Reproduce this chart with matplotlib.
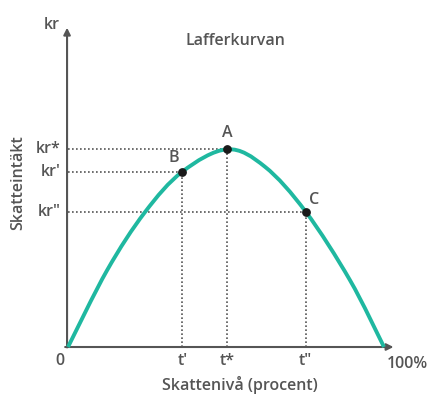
import matplotlib
matplotlib.use("Agg")
import matplotlib.pyplot as plt
from matplotlib.path import Path
from matplotlib.patches import PathPatch

# Curve: tax rate (0..100 %) and tax revenue (peak = 100)
tax_rate = [0, 12.4, 24.3, 36.2, 50.4, 62.3, 75.2, 89.2, 100]
revenue = [0, 38.9, 68.1, 88.7, 100, 91.2, 68.5, 33.9, 0]

point_names = ["A", "B", "C"]
point_x = [50.4, 36.2, 75.2]
point_y = [100, 88.7, 68.5]
x_tick_labels = ["t*", "t\u2032", "t\u2033"]
y_tick_labels = ["kr*", "kr\u2032", "kr\u2033"]

title = "Lafferkurvan"
xlabel = "Skattenivå (procent)"
ylabel = "Skatteintäkt"

TEAL = "#1fb8a0"
GRAY = "#555555"
FONT = ["Open Sans", "DejaVu Sans"]
FS = 11.5
FW = "semibold"

fig = plt.figure(figsize=(4.29, 3.96), dpi=100)
ax = fig.add_axes([0, 0, 1, 1])
ax.set_xlim(-21.52, 114.24)
ax.set_ylim(-24.78, 175.52)
ax.axis("off")

# axes with arrows
ax.annotate("", xy=(-0.3, 161.5), xytext=(-0.3, -0.2),
            arrowprops=dict(arrowstyle="-|>", color=GRAY, lw=1.5,
                            mutation_scale=10, shrinkA=0, shrinkB=0))
ax.annotate("", xy=(103.0, 0), xytext=(-0.9, 0),
            arrowprops=dict(arrowstyle="-|>", color=GRAY, lw=1.5,
                            mutation_scale=10, shrinkA=0, shrinkB=0))

# dotted guide lines
for px, py in zip(point_x, point_y):
    ax.plot([0, px], [py, py], linestyle=(0, (1, 1.4)), color=GRAY, lw=1.2, zorder=2)
    ax.plot([px, px], [0, py], linestyle=(0, (1, 1.4)), color=GRAY, lw=1.2, zorder=2)

# smooth curve through the read points (Catmull-Rom rendered as cubic Bezier path)
pts = list(zip(tax_rate, revenue))
verts = [pts[0]]
codes = [Path.MOVETO]
n = len(pts)
for i in range(n - 1):
    p0 = pts[i - 1] if i > 0 else pts[i]
    p1 = pts[i]
    p2 = pts[i + 1]
    p3 = pts[i + 2] if i + 2 < n else pts[i + 1]
    c1 = (p1[0] + (p2[0] - p0[0]) / 6.0, p1[1] + (p2[1] - p0[1]) / 6.0)
    c2 = (p2[0] - (p3[0] - p1[0]) / 6.0, p2[1] - (p3[1] - p1[1]) / 6.0)
    verts += [c1, c2, p2]
    codes += [Path.CURVE4, Path.CURVE4, Path.CURVE4]
ax.add_patch(PathPatch(Path(verts, codes), facecolor="none", edgecolor=TEAL,
                       lw=2.8, capstyle="butt", zorder=3))

# points
ax.scatter(point_x, point_y, s=28, color="#1a1a1a", zorder=4)

# point labels
offsets = {"A": (0.0, 8.5), "B": (-2.8, 6.8), "C": (2.6, 6.0)}
for nme, px, py in zip(point_names, point_x, point_y):
    dx, dy = offsets[nme]
    ax.text(px + dx, py + dy, nme, ha="center", va="center", fontsize=FS,
            fontweight=FW, color=GRAY, family=FONT)

# tick labels
for lab, px in zip(x_tick_labels, point_x):
    ax.text(px, -7.2, lab, ha="center", va="center", fontsize=FS,
            fontweight=FW, color=GRAY, family=FONT)
for lab, py in zip(y_tick_labels, point_y):
    ax.text(-2.3, py, lab, ha="right", va="center", fontsize=FS,
            fontweight=FW, color=GRAY, family=FONT)

ax.text(-2.5, -7.2, "0", ha="center", va="center", fontsize=FS,
        fontweight=FW, color=GRAY, family=FONT)
ax.text(107.5, -8.5, "100%", ha="center", va="center", fontsize=FS,
        fontweight=FW, color=GRAY, family=FONT)
ax.text(-5.0, 163.0, "kr", ha="center", va="center", fontsize=FS,
        fontweight=FW, color=GRAY, family=FONT)

ax.text(53.0, 155.0, title, ha="center", va="center", fontsize=FS,
        fontweight=FW, color=GRAY, family=FONT)
ax.text(54.5, -19.0, xlabel, ha="center", va="center", fontsize=FS,
        fontweight=FW, color=GRAY, family=FONT)
ax.text(-15.8, 83.0, ylabel, ha="center", va="center", rotation=90, fontsize=FS,
        fontweight=FW, color=GRAY, family=FONT)

fig.savefig("out.png", dpi=100)
